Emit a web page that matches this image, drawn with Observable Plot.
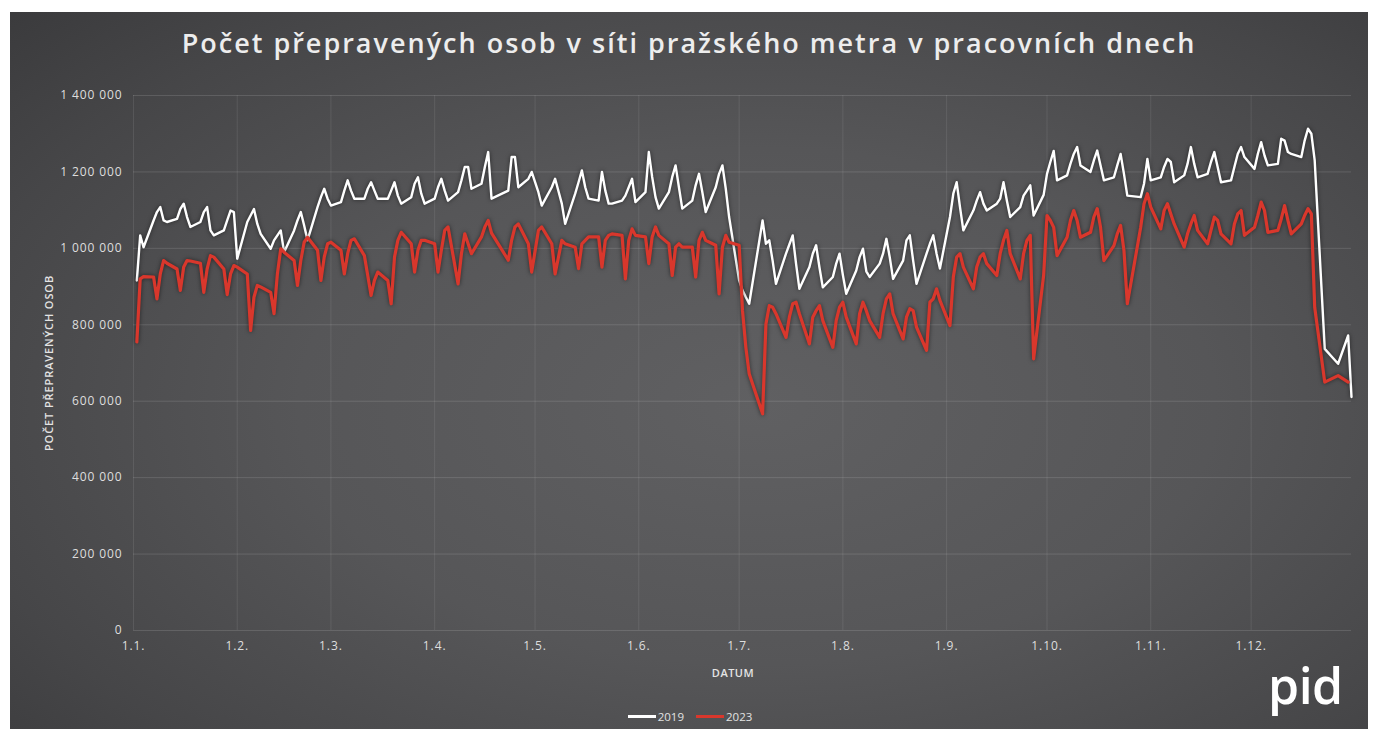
<!DOCTYPE html>
<html>
<head>
<meta charset="utf-8">
<script src="https://cdn.jsdelivr.net/npm/d3@7"></script>
<script src="https://cdn.jsdelivr.net/npm/@observablehq/plot@0.6"></script>
<style>
  html, body { margin: 0; padding: 0; background: #ffffff; }
  body { width: 1376px; height: 729px; overflow: hidden; position: relative; font-family: "Open Sans", "DejaVu Sans", sans-serif; }
  #panel {
    position: absolute; left: 10px; top: 12px; width: 1358px; height: 717px;
    background: radial-gradient(ellipse 75% 80% at 55% 55%, #606062 0%, #565658 45%, #464648 80%, #3b3b3d 100%);
    overflow: hidden;
  }
  #title {
    position: absolute; left: 0; width: 100%; top: 12px; text-align: center;
    color: #ededed; font-size: 27px; font-weight: 600; letter-spacing: 2px;
  }
  #chart { position: absolute; left: 0; top: 68px; }
  #ylabel {
    position: absolute; left: 38px; top: 351px; width: 0; height: 0;
  }
  #ylabel span {
    position: absolute; transform: translate(-50%, -50%) rotate(-90deg); white-space: nowrap;
    color: #e4e4e4; font-size: 11px; font-weight: 600; letter-spacing: 0.9px;
  }
  #xlabel {
    position: absolute; left: 723px; top: 653px; transform: translateX(-50%);
    color: #e4e4e4; font-size: 11px; font-weight: 600; letter-spacing: 0.5px;
  }
  #legend {
    position: absolute; top: 697px; left: 0; width: 100%; display: flex; justify-content: center;
    align-items: center; gap: 12px; color: #e2e2e2; font-size: 11.5px; padding-left: 2px; box-sizing: border-box;
  }
  #legend .item { display: flex; align-items: center; gap: 2px; }
  #legend .sw { display: inline-block; width: 28px; height: 3px; }
  #logo {
    position: absolute; left: 1258px; top: 648px; color: #ffffff; font-size: 50px; font-weight: 600;
    letter-spacing: -0.5px; line-height: 1;
  }
  g[aria-label="line"] path { filter: drop-shadow(0 0 2px rgba(0,0,0,0.55)); }
  g[aria-label="y-axis tick label"] text, g[aria-label="x-axis tick label"] text { letter-spacing: 0.9px; }
</style>
</head>
<body>
<div id="panel">
  <div id="title">Počet přepravených osob v síti pražského metra v pracovních dnech</div>
  <div id="chart"></div>
  <div id="ylabel"><span>POČET PŘEPRAVENÝCH OSOB</span></div>
  <div id="xlabel">DATUM</div>
  <div id="legend"></div>
  <div id="logo">pid</div>
</div>
<script>
// ---- DATA ----
const year = 2019;
// Czech public holidays falling on weekdays in 2019 (the date axis uses the 2019 working-day calendar)
const holidays2019 = ["2019-01-01","2019-04-19","2019-04-22","2019-05-01","2019-05-08",
  "2019-07-05","2019-10-28","2019-12-24","2019-12-25","2019-12-26"];

const seriesNames = ["2019", "2023"];
const seriesColors = ["#ffffff", "#d9372c"];

// Passengers per working day, in thousands
const passengers2019 = [
  916, 1034, 1003,
  1073, 1095, 1108, 1073, 1069,
  1077, 1103, 1117, 1082, 1056,
  1069, 1095, 1108, 1047, 1034,
  1047, 1073, 1099, 1095, 973,
  1069, 1086, 1103, 1064, 1038,
  999, 1021, 1034, 1047, 990,
  1047, 1073, 1095, 1060, 1021,
  1108, 1134, 1156, 1130, 1112,
  1121, 1151, 1178, 1151, 1130,
  1130, 1156, 1173, 1151, 1130,
  1130, 1151, 1173, 1138, 1117,
  1134, 1169, 1186, 1143, 1117,
  1130, 1160, 1182, 1151, 1125,
  1147, 1178, 1213, 1213, 1156,
  1169, 1213, 1252, 1130,
  1151, 1239, 1239, 1160,
  1182, 1200, 1147, 1112,
  1160, 1182, 1117, 1064,
  1143, 1173, 1204, 1160, 1130,
  1125, 1200, 1151, 1117, 1117,
  1125, 1138, 1160, 1182, 1121,
  1147, 1252, 1187, 1134, 1104,
  1147, 1187, 1217, 1160, 1104,
  1125, 1165, 1195, 1147, 1095,
  1160, 1195, 1217, 1156, 1082,
  916, 890, 872, 855,
  1073, 1012, 1021, 968, 907,
  986, 1010, 1034, 960, 894,
  951, 986, 1008, 950, 898,
  925, 960, 986, 930, 881,
  942, 977, 999, 940, 925,
  960, 986, 1025, 977, 920,
  968, 1021, 1034, 968, 907,
  986, 1012, 1034, 986, 947,
  1082, 1143, 1173, 1108, 1047,
  1099, 1125, 1147, 1117, 1099,
  1117, 1130, 1173, 1125, 1082,
  1108, 1138, 1151, 1165, 1086,
  1140, 1195, 1226, 1255, 1178,
  1191, 1221, 1247, 1265, 1217,
  1200, 1230, 1256, 1217, 1178,
  1186, 1217, 1247, 1195, 1138,
  1134, 1169, 1234, 1178,
  1186, 1213, 1234, 1226, 1173,
  1191, 1221, 1265, 1221, 1186,
  1195, 1226, 1252, 1213, 1173,
  1178, 1213, 1247, 1265, 1239,
  1208, 1247, 1278, 1243, 1217,
  1221, 1287, 1282, 1252, 1247,
  1239, 1282, 1313, 1300, 1230,
  737, 698,
  772, 611
];
const passengers2023 = [
  755, 920, 926,
  925, 868, 933, 968, 961,
  946, 890, 951, 968, 967,
  961, 885, 946, 981, 977,
  946, 879, 933, 955, 951,
  933, 785, 872, 903, 899,
  885, 829, 933, 999, 990,
  968, 903, 968, 1016, 1029,
  995, 916, 977, 1012, 1016,
  995, 933, 986, 1021, 1025,
  981, 929, 877, 916, 938,
  916, 855, 977, 1021, 1042,
  1012, 938, 995, 1021, 1021,
  1012, 938, 995, 1047, 1056,
  907, 986, 1038, 1012, 986,
  1030, 1056, 1073, 1040,
  969, 1021, 1056, 1064,
  1012, 938, 1047, 1056,
  1012, 933, 1021, 1012,
  1003, 947, 1012, 1021, 1030,
  1030, 951, 1021, 1034, 1038,
  1034, 920, 1021, 1051, 1034,
  1030, 960, 1030, 1056, 1034,
  1012, 929, 1003, 1012, 1003,
  1003, 925, 1021, 1042, 1021,
  1008, 881, 1003, 1034, 1016,
  1008, 837, 741, 672,
  567, 802, 850, 846, 829,
  767, 820, 855, 859, 829,
  750, 820, 837, 850, 811,
  741, 811, 846, 859, 820,
  750, 829, 859, 837, 811,
  767, 829, 868, 881, 829,
  763, 820, 842, 837, 794,
  733, 859, 868, 894, 864,
  798, 925, 977, 986, 951,
  894, 951, 977, 986, 960,
  929, 986, 1021, 1047, 986,
  920, 986, 1021, 1034, 711,
  930, 1086, 1073, 1055, 981,
  1029, 1073, 1099, 1073, 1029,
  1042, 1082, 1104, 1055, 968,
  1007, 1038, 1060, 994, 855,
  1055, 1117, 1143, 1108,
  1051, 1099, 1117, 1090, 1064,
  1003, 1038, 1064, 1086, 1047,
  1012, 1047, 1082, 1073, 1038,
  1012, 1064, 1090, 1099, 1034,
  1055, 1086, 1121, 1099, 1042,
  1047, 1077, 1112, 1073, 1038,
  1064, 1086, 1104, 1090, 846,
  650, 667,
  650
];
const yTicks = [0, 200000, 400000, 600000, 800000, 1000000, 1200000, 1400000];
const monthLabels = ["1.1.","1.2.","1.3.","1.4.","1.5.","1.6.","1.7.","1.8.","1.9.","1.10.","1.11.","1.12."];

// ---- BUILD ----
const holidaySet = new Set(holidays2019);
const workDays = [];
for (let t = Date.UTC(year, 0, 1); t < Date.UTC(year + 1, 0, 1); t += 86400000) {
  const d = new Date(t);
  const wd = d.getUTCDay();
  const iso = d.toISOString().slice(0, 10);
  if (wd >= 1 && wd <= 5 && !holidaySet.has(iso)) workDays.push(d);
}
const monthStarts = monthLabels.map((_, m) => new Date(Date.UTC(year, m, 1)));

const rows = [];
[passengers2019, passengers2023].forEach((arr, s) => {
  arr.forEach((v, i) => { if (i < workDays.length) rows.push({series: seriesNames[s], date: workDays[i], value: v * 1000}); });
});

const fmt = d => d3.format(",")(d).replace(/,/g, " ");

const chart = Plot.plot({
  width: 1358,
  height: 610,
  marginLeft: 123,
  marginRight: 17,
  marginTop: 15,
  marginBottom: 60,
  style: {background: "transparent", color: "#dedede", fontFamily: "'Open Sans', sans-serif", fontSize: "12px"},
  x: {type: "utc", domain: [new Date(Date.UTC(year, 0, 1)), new Date(Date.UTC(year, 11, 31))]},
  y: {domain: [0, 1400000]},
  color: {domain: seriesNames, range: seriesColors},
  marks: [
    Plot.gridY(yTicks, {stroke: "#ffffff", strokeOpacity: 0.13, strokeWidth: 1}),
    Plot.gridX(monthStarts, {stroke: "#ffffff", strokeOpacity: 0.09, strokeWidth: 1}),
    Plot.axisY(yTicks, {tickSize: 0, tickPadding: 11, tickFormat: fmt, fill: "#dedede", label: null, fontSize: 12}),
    Plot.axisX(monthStarts, {tickSize: 0, tickPadding: 11, tickFormat: d => monthLabels[d.getUTCMonth()], fill: "#dedede", label: null, fontSize: 12}),
    Plot.lineY(rows.filter(r => r.series === "2019"), {x: "date", y: "value", stroke: "series", strokeWidth: 2.4, curve: "linear"}),
    Plot.lineY(rows.filter(r => r.series === "2023"), {x: "date", y: "value", stroke: "series", strokeWidth: 3.2, curve: "linear"})
  ]
});
document.getElementById("chart").appendChild(chart);

// legend
const legend = document.getElementById("legend");
seriesNames.forEach((n, i) => {
  const item = document.createElement("div");
  item.className = "item";
  item.innerHTML = `<span class="sw" style="background:${seriesColors[i]}"></span><span>${n}</span>`;
  legend.appendChild(item);
});
</script>
</body>
</html>
